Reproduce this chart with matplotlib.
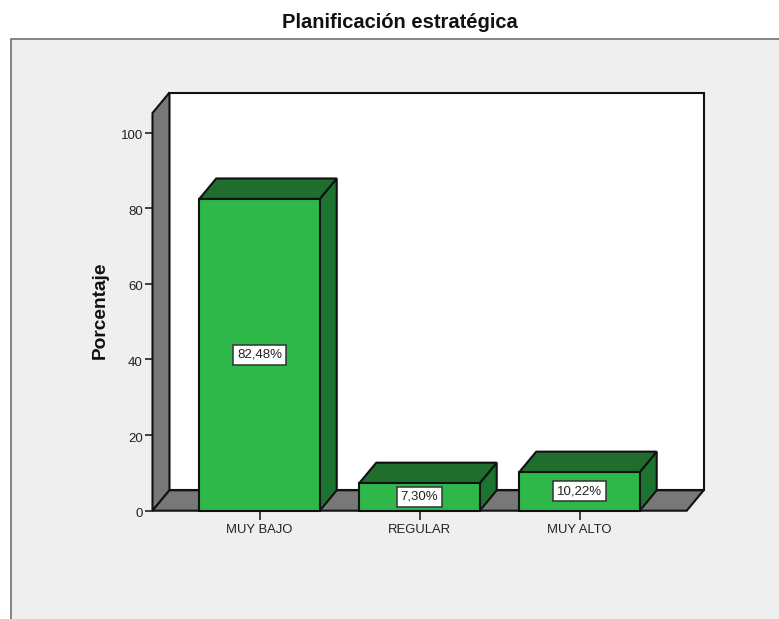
import matplotlib

matplotlib.use('Agg')
import matplotlib.pyplot as plt
from matplotlib.patches import Polygon, Rectangle
from matplotlib.transforms import ScaledTranslation

plt.rcParams['font.family'] = ['Liberation Sans', 'DejaVu Sans']

categories = ['MUY BAJO', 'REGULAR', 'MUY ALTO']
percentages = [82.48, 7.30, 10.22]
value_labels = ['82,48%', '7,30%', '10,22%']
yticks = [0, 20, 40, 60, 80, 100]

W, H = 779, 619
# 3d offset of the back wall, in data units
DX = 0.106
DY = 5.4
BAR_W = 0.753
XMIN, XMAX = -0.669, 2.67
YMAX = 105.2

FACE = '#2FB84A'
TOP = '#1F6E2E'
SIDE = '#1D7430'
WALL = '#787878'
EDGE = '#111111'

fig = plt.figure(figsize=(W / 100, H / 100), dpi=100, facecolor='white')
# grey panel behind the plot, open at right and bottom
fig.add_artist(Rectangle((10.5 / W, -0.01), 1, 1 - 39 / H + 0.01, transform=fig.transFigure,
                         facecolor='#EFEFEF', edgecolor='#707070', linewidth=1.2, zorder=-1))

ax = fig.add_axes([152.5 / W, 1 - 510.7 / H, 534.2 / W, 397.7 / H])
ax.set_xlim(XMIN, XMAX)
ax.set_ylim(0, YMAX)
ax.patch.set_visible(False)
for s in ax.spines.values():
    s.set_visible(False)


def poly(pts, fc, z):
    ax.add_patch(Polygon(pts, closed=True, facecolor=fc, edgecolor=EDGE, linewidth=1.5,
                         joinstyle='miter', clip_on=False, zorder=z))


# back wall, left wall, floor
poly([(XMIN + DX, DY), (XMAX + DX, DY), (XMAX + DX, YMAX + DY), (XMIN + DX, YMAX + DY)], 'white', 1)
poly([(XMIN, 0), (XMIN + DX, DY), (XMIN + DX, YMAX + DY), (XMIN, YMAX)], WALL, 2)
poly([(XMIN, 0), (XMAX, 0), (XMAX + DX, DY), (XMIN + DX, DY)], WALL, 2)

for i, v in enumerate(percentages):
    l = i - BAR_W / 2
    r = i + BAR_W / 2
    poly([(r, 0), (r + DX, DY), (r + DX, v + DY), (r, v)], SIDE, 3)
    poly([(l, v), (r, v), (r + DX, v + DY), (l + DX, v + DY)], TOP, 3)
    ax.bar(i, v, BAR_W, color=FACE, edgecolor=EDGE, linewidth=1.5, zorder=4, clip_on=False)
    ax.text(i, v / 2, value_labels[i], ha='center', va='center', fontsize=9.5, color='#222222', zorder=5,
            bbox=dict(boxstyle='square,pad=0.3', facecolor='white', edgecolor='#333333', linewidth=1.1))

ax.set_xticks(range(len(categories)))
ax.set_xticklabels(categories)
ax.set_yticks(yticks)
ax.tick_params(axis='y', labelsize=9.5, labelcolor='#222222', color='#222222', width=1.2, length=6, pad=1)
ax.tick_params(axis='x', labelsize=9.4, labelcolor='#222222', color='#222222', width=1.2, length=6.5, pad=3)
# y labels sit a little below their ticks
for t in ax.get_yticklabels():
    t.set_transform(t.get_transform() + ScaledTranslation(0, -2 / 100, fig.dpi_scale_trans))

fig.text(400 / W, 1 - 22 / H, 'Planificación estratégica', ha='center', va='center',
         fontsize=14.5, fontweight='bold', color='#111111')
fig.text(100 / W, 1 - 310 / H, 'Porcentaje', ha='center', va='center', rotation=90,
         fontsize=13.8, fontweight='bold', color='#111111')

fig.savefig('out.png', dpi=100)
